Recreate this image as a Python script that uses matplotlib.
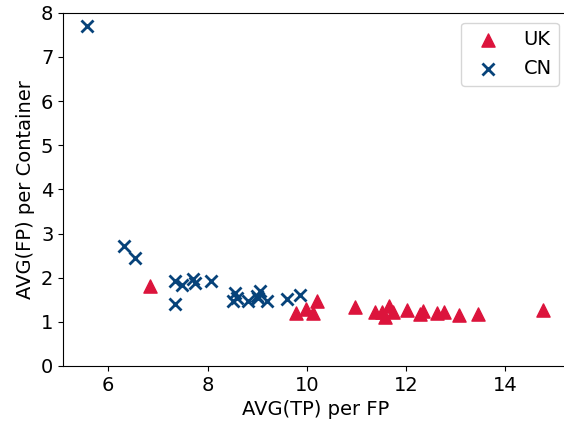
import matplotlib
matplotlib.use("Agg")
import matplotlib.pyplot as plt

# UK points: AVG(TP) per FP vs AVG(FP) per Container
uk_x = [6.85, 9.78, 9.98, 10.13, 10.2, 10.97, 11.38, 11.52, 11.65, 11.58,
        11.75, 12.02, 12.28, 12.34, 12.62, 12.77, 13.08, 13.46, 14.77]
uk_y = [1.82, 1.21, 1.29, 1.21, 1.46, 1.33, 1.23, 1.22, 1.35, 1.12,
        1.23, 1.27, 1.18, 1.24, 1.21, 1.23, 1.15, 1.18, 1.27]

# CN points
cn_x = [5.57, 6.32, 6.54, 7.35, 7.48, 7.71, 7.75, 8.08, 7.35,
        8.55, 8.59, 8.52, 8.82, 8.99, 9.06, 9.02, 9.19, 9.6, 9.87]
cn_y = [7.71, 2.72, 2.45, 1.93, 1.84, 1.97, 1.88, 1.93, 1.41,
        1.65, 1.54, 1.46, 1.46, 1.58, 1.7, 1.54, 1.46, 1.51, 1.6]

UK_COLOR = "#DC143C"
CN_COLOR = "#07437A"

fig, ax = plt.subplots(figsize=(5.64, 4.28), dpi=100)
# the original figure is cropped just inside the right spine
fig.subplots_adjust(left=0.112, right=1.009, top=0.970, bottom=0.145)

ax.scatter(uk_x, uk_y, marker="^", s=90, color=UK_COLOR, label="UK")
ax.scatter(cn_x, cn_y, marker="x", s=75, linewidths=2, color=CN_COLOR, label="CN")

ax.set_xlim(5.09, 15.29)
ax.set_ylim(0, 8)
ax.set_xticks([6, 8, 10, 12, 14])
ax.tick_params(labelsize=14)
ax.set_xlabel("AVG(TP) per FP", fontsize=14)
ax.set_ylabel("AVG(FP) per Container", fontsize=14)
ax.legend(loc="upper right", fontsize=14)

fig.savefig("out.png", dpi=100)
